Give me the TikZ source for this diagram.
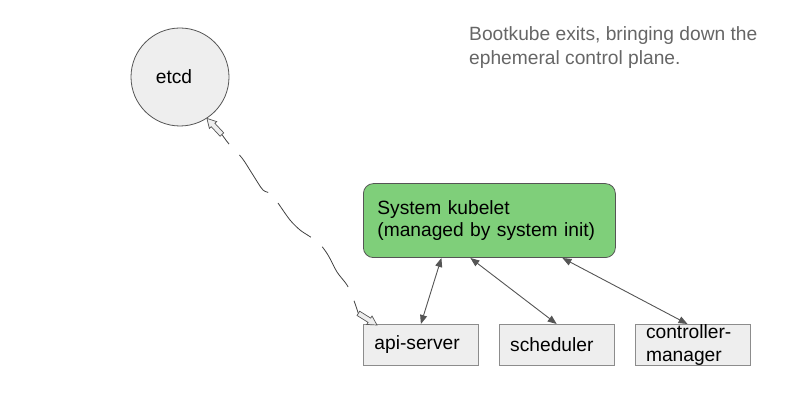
\documentclass[tikz,border=0pt]{standalone}
\usepackage{fontspec}
\setmainfont{Liberation Sans}
\usepackage{xcolor}
\usetikzlibrary{shapes,calc,positioning,arrows.meta}

\definecolor{kubegreen}{RGB}{127,207,122}
\definecolor{boxgray}{RGB}{238,238,238}
\definecolor{linegray}{RGB}{85,85,85}
\definecolor{textgray}{RGB}{102,102,102}

\begin{document}
\begin{tikzpicture}[x=1pt,y=-1pt]
        % Define the styles for boxes and links
        \tikzstyle{plain text}=[font=\fontsize{19.2}{22.5}\selectfont];
        \tikzstyle{component}=[plain text, draw=gray!90, fill=boxgray, line width=0.8pt, minimum height=41pt, text width=93pt, inner xsep=11pt, inner ysep=0pt, align=left];
        \tikzstyle{kubelet box}=[plain text, draw=linegray, fill=kubegreen, line width=0.8pt, rounded corners=10pt, minimum height=74pt, text width=224pt, inner xsep=14pt, align=left];
        \tikzstyle{control link}=[draw=linegray, line width=0.9pt, {Triangle[length=9pt,width=7pt]}-{Triangle[length=9pt,width=7pt]}];
        \tikzstyle{etcd link}=[draw=black!75, line width=0.8pt, dash pattern=on 48pt off 15pt, dash phase=36pt];
        \tikzset{block tip/.pic={
            \draw[linegray, line width=0.7pt, fill=boxgray] (0,0) -- (-9,-5) -- (-9,-2.5) -- (-22,-2.5) -- (-22,2.5) -- (-9,2.5) -- (-9,5) -- cycle;
        }}

        % Fix the margins
        \useasboundingbox (0,0) rectangle (806,411);

        % Note at the top
        \node[font=\fontsize{19.2}{24}\selectfont, text=textgray, anchor=north west, align=left, inner sep=0pt] (note) at (469,26) {Bootkube exits, bringing down the\\ephemeral control plane.};

        % Draw etcd
        \node[circle, draw=linegray, fill=boxgray, line width=0.8pt, minimum size=98pt, label={[plain text, xshift=-6pt]center:etcd}] (etcd) at (180,77) {};

        % Control plane components
        \node[component, anchor=north west] (api) at (363,324) {api-server};
        \node[component, right=20pt of api] (scheduler) {scheduler};
        \node[component, right=20pt of scheduler] (ctrlmgr) {controller-\\manager};

        % System kubelet above them
        \node[kubelet box, above=66pt of api.north west, anchor=south west] (kubelet) {System kubelet\\(managed by system init)};

        % Links to the kubelet
        \draw[control link] (api.north) -- ([xshift=-48pt]kubelet.south);
        \draw[control link] (scheduler.north) -- ([xshift=-19pt]kubelet.south);
        \draw[control link] ([xshift=-5pt]ctrlmgr.north) -- ([xshift=73pt]kubelet.south);

        % Link between etcd and api-server
        \coordinate (etcdtip) at (etcd.-57);
        \coordinate (apitip) at ($(api.north west)+(14,1)$);
        \coordinate (etcdtail) at ($(etcdtip)+(-47:22pt)$);
        \coordinate (apitail) at ($(apitip)+(148:22pt)$);
        \draw[etcd link] plot[smooth] coordinates {(etcdtail) (229,144) (242,158) (253,175) (263,190) (272,194) (278,203) (290,220) (300,230) (309,236) (319,243) (328,255) (337,272) (347,285) (353,298) (apitail)};
        \pic[rotate=133] at (etcdtip) {block tip};
        \pic[rotate=-32] at (apitip) {block tip};

    \end{tikzpicture}
\end{document}
